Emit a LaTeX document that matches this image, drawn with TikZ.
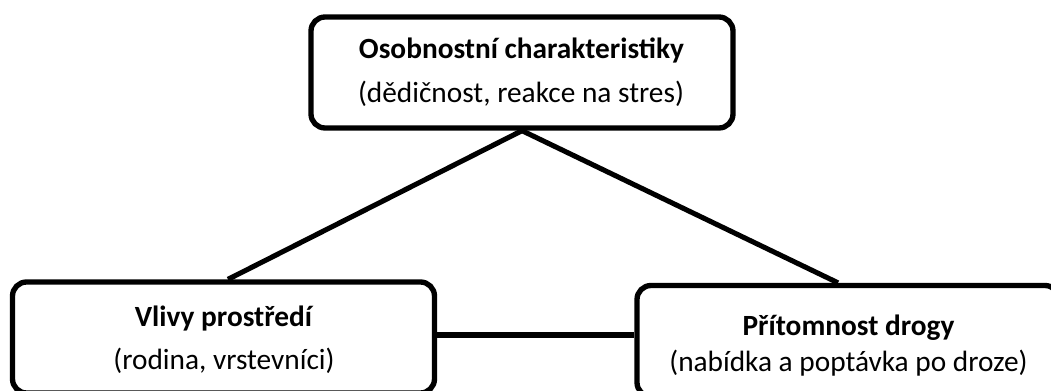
\documentclass[tikz,border=0pt]{standalone}
\usepackage{fontspec}
\setmainfont{Carlito}
\usetikzlibrary{calc}
\begin{document}
\begin{tikzpicture}[x=0.75pt,y=-0.75pt,
  box/.style={draw=black, line width=4pt, rounded corners=10.5pt,
    minimum width=316.5pt, minimum height=83.25pt, inner sep=0pt},
  link/.style={draw=black, line width=3.8pt},
  head/.style={anchor=base, inner sep=0pt, font=\fontsize{22}{26}\selectfont\bfseries},
  sub/.style={anchor=base, inner sep=0pt, font=\fontsize{22}{26}\selectfont}]
\useasboundingbox (0,0) rectangle (1051,391);
\clip (0,0) rectangle (1051,391);
\fill[white] (0,0) rectangle (1051,391);

% the three factor boxes
\node[box] (top)  at (522,72.5)  {};
\node[box] (env)  at (223.5,337.5) {};
\node[box] (drug) at (848,341)   {};

% connectors of the triangle
\draw[link] (top.south) -- ($(env.north)+(4.5,0)$);
\draw[link] (top.south) -- ($(drug.north)+(-10,0)$);
\draw[link] ($(env.east)+(0,-2.5)$) -- ($(drug.west |- env.east)+(0,-2.5)$);

% box texts
\node[head] (topA)  at (521.5,59)  {Osobnostní charakteristiky};
\node[sub]  (topB)  at (521,103)   {(dědičnost, reakce na stres)};
\node[head] (envA)  at (223.5,327) {Vlivy prostředí};
\node[sub]  (envB)  at (224,370)   {(rodina, vrstevníci)};
\node[head] (drugA) at (848.5,336) {Přítomnost drogy};
\node[sub]  (drugB) at (848.5,372) {(nabídka a poptávka po droze)};
\end{tikzpicture}
\end{document}
